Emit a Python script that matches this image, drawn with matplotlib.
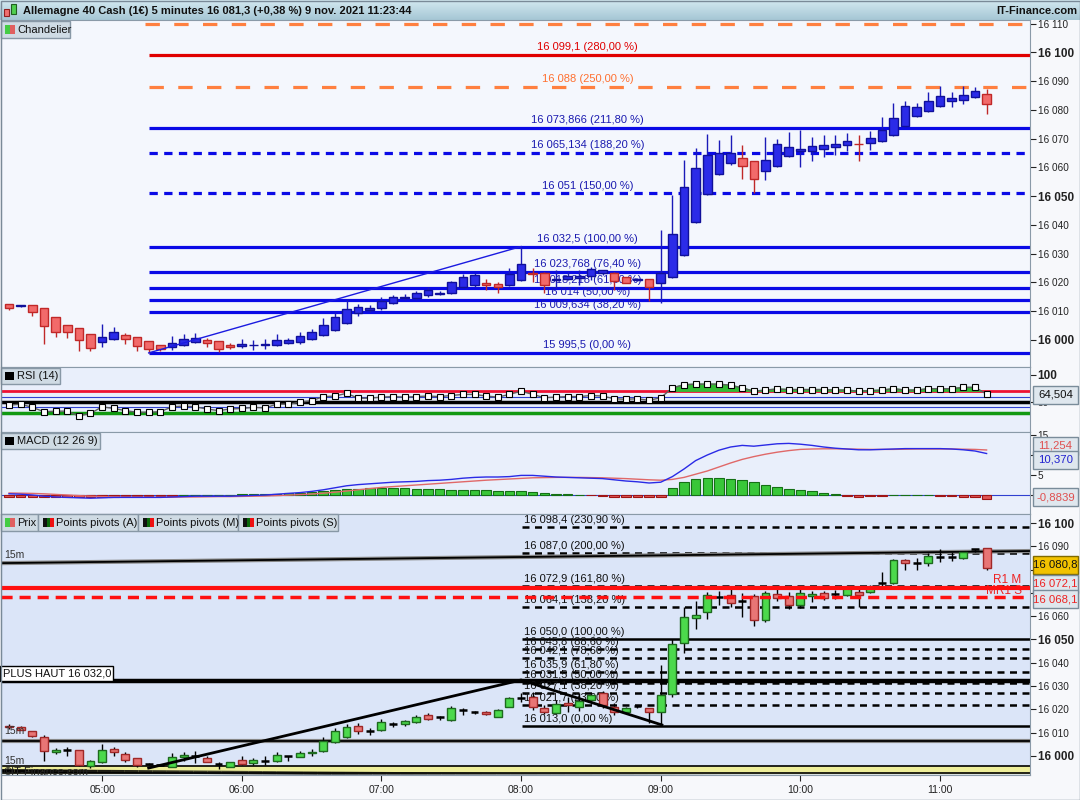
import numpy as np
import pandas as pd
import matplotlib
matplotlib.use('Agg')
import matplotlib.pyplot as plt
from matplotlib.patches import Rectangle
from matplotlib.collections import LineCollection
from matplotlib.colors import LinearSegmentedColormap, to_rgba

plt.rcParams['font.family'] = ['Liberation Sans', 'DejaVu Sans']

# 5 minute bars, 04:20 -> 11:20
times = pd.date_range('2021-11-09 04:20', '2021-11-09 11:20', freq='5min')
x = np.arange(len(times))

# --- top panel (Chandelier) ---
o1 = [16012.5, 16011.7, 16012.1, 16011.0, 16007.9, 16005.1, 16004.1, 16002.0, 15999.4, 16000.2,
      16001.7, 16000.9, 15999.5, 15998.2, 15997.5, 15998.2, 15999.2, 15999.9, 15999.5, 15998.3,
      15997.9, 15998.2, 15998.2, 15998.2, 15999.0, 15999.3, 16000.2, 16001.6, 16003.4, 16005.8,
      16009.5, 16010.5, 16011.0, 16013.0, 16014.5, 16014.5, 16015.5, 16016.0, 16016.5, 16018.5,
      16019.0, 16019.9, 16019.5, 16019.1, 16020.9, 16023.4, 16023.2, 16021.0, 16021.1, 16021.5,
      16022.3, 16023.2, 16023.4, 16021.8, 16021.0, 16021.1, 16019.7, 16021.8, 16029.6, 16041.1,
      16050.7, 16057.6, 16061.4, 16063.2, 16062.1, 16058.9, 16060.6, 16064.1, 16065.6, 16065.8,
      16066.6, 16067.2, 16067.7, 16068.3, 16068.4, 16069.1, 16071.3, 16074.4, 16077.9, 16079.5,
      16081.4, 16083.0, 16083.4, 16084.5, 16085.5]
h1 = [16012.6, 16012.3, 16012.2, 16011.1, 16008.0, 16005.2, 16004.2, 16002.1, 16005.7, 16004.5,
      16002.4, 16001.0, 15999.6, 15998.3, 16001.3, 16002.2, 16002.4, 16000.8, 15999.6, 15998.9,
      16000.5, 15999.9, 16000.2, 16002.2, 16000.8, 16002.7, 16003.8, 16007.8, 16009.7, 16014.2,
      16012.5, 16012.0, 16015.0, 16015.8, 16016.0, 16017.0, 16018.5, 16017.0, 16020.5, 16023.0,
      16023.3, 16021.2, 16020.3, 16024.9, 16032.3, 16025.1, 16023.5, 16024.3, 16023.5, 16024.3,
      16025.5, 16024.3, 16023.5, 16022.0, 16021.5, 16021.2, 16038.2, 16050.4, 16062.6, 16066.7,
      16071.6, 16069.5, 16071.3, 16067.8, 16062.3, 16070.5, 16069.8, 16072.4, 16073.0, 16070.5,
      16071.3, 16071.3, 16072.1, 16071.3, 16072.8, 16077.6, 16082.3, 16083.2, 16082.3, 16086.2,
      16088.3, 16086.1, 16088.3, 16088.1, 16087.3]
l1 = [16010.4, 16011.4, 16008.4, 15998.5, 16001.1, 16000.6, 15996.3, 15996.0, 15997.7, 16000.0,
      15998.5, 15996.3, 15995.5, 15996.2, 15996.5, 15998.0, 15999.0, 15997.5, 15995.8, 15996.8,
      15997.1, 15996.4, 15997.0, 15998.0, 15998.5, 15998.5, 15999.9, 16001.3, 16003.0, 16005.5,
      16008.5, 16009.8, 16010.5, 16012.5, 16014.0, 16014.0, 16015.0, 16015.5, 16016.0, 16018.0,
      16018.5, 16017.4, 16016.2, 16018.8, 16020.5, 16020.3, 16016.4, 16018.0, 16020.8, 16019.1,
      16020.9, 16022.6, 16017.4, 16019.7, 16020.6, 16013.5, 16013.0, 16021.5, 16029.3, 16040.8,
      16050.4, 16057.3, 16060.8, 16056.0, 16051.2, 16055.6, 16060.3, 16063.5, 16060.3, 16062.3,
      16063.7, 16064.3, 16065.8, 16062.3, 16066.1, 16068.8, 16071.0, 16074.1, 16077.6, 16079.2,
      16081.1, 16081.1, 16082.1, 16084.2, 16078.5]
c1 = [16011.1, 16012.0, 16009.8, 16004.9, 16002.7, 16002.7, 16000.0, 15997.1, 16001.0, 16002.7,
      16000.2, 15997.9, 15996.8, 15996.8, 15998.9, 16000.2, 16000.6, 15998.9, 15996.8, 15997.5,
      15998.6, 15998.3, 15998.7, 15999.9, 15999.9, 16001.3, 16002.7, 16005.2, 16007.9, 16010.7,
      16011.5, 16011.2, 16013.5, 16015.0, 16015.0, 16016.3, 16017.5, 16016.5, 16020.0, 16021.8,
      16022.5, 16019.1, 16018.5, 16022.8, 16026.3, 16022.9, 16019.1, 16021.1, 16022.4, 16022.4,
      16024.6, 16024.2, 16020.6, 16019.9, 16021.1, 16018.5, 16023.4, 16036.9, 16053.1, 16059.7,
      16064.3, 16064.9, 16064.9, 16060.6, 16055.9, 16062.6, 16068.1, 16067.0, 16066.6, 16067.5,
      16067.8, 16068.1, 16069.2, 16068.2, 16070.1, 16073.2, 16077.1, 16081.4, 16080.9, 16083.0,
      16084.8, 16084.0, 16085.2, 16086.5, 16082.0]

fib_top_levels = [16099.1, 16088.0, 16073.866, 16065.134, 16051.0, 16032.5,
                  16023.768, 16018.218, 16014.0, 16009.634, 15995.5]
fib_top_labels = ['16 099,1 (280,00 %)', '16 088 (250,00 %)', '16 073,866 (211,80 %)',
                  '16 065,134 (188,20 %)', '16 051 (150,00 %)', '16 032,5 (100,00 %)',
                  '16 023,768 (76,40 %)', '16 018,218 (61,80 %)', '16 014 (50,00 %)',
                  '16 009,634 (38,20 %)', '15 995,5 (0,00 %)']
fib_top_kind = ['red', 'orange', 'solid', 'dash', 'dash', 'solid',
                'solid', 'solid', 'solid', 'solid', 'solid']
fib_top_extra = 16109.8  # orange dashed line at the very top

# --- RSI (14) ---
rsi = [44, 46, 40, 32, 33, 33, 24, 29, 41, 38,
       34, 31, 31, 32, 41, 42.6, 41, 37, 34, 37,
       38, 40, 39, 46, 46, 49.4, 52.4, 59.8, 61, 66,
       57, 57, 59, 60, 59, 60, 61, 60, 62, 64,
       64, 61, 59, 64, 70, 64, 58, 59, 60, 60,
       62, 61, 56, 55, 56, 53, 58, 76, 82, 83,
       83, 83, 81, 76, 70, 72, 74, 73, 73, 73,
       73, 72, 72, 70, 71, 72, 74.6, 72, 72, 74.6,
       74.6, 74.6, 77, 77, 64.504]

# --- MACD (12 26 9) ---
macd = [0.3, 0.2, 0.0, -0.3, -0.5, -0.6, -0.7, -0.8, -0.7, -0.6,
        -0.6, -0.6, -0.6, -0.6, -0.5, -0.4, -0.3, -0.3, -0.3, -0.3,
        -0.2, -0.1, 0.0, 0.2, 0.4, 0.6, 0.9, 1.3, 1.8, 2.3,
        2.6, 2.8, 3.0, 3.2, 3.3, 3.4, 3.6, 3.7, 3.9, 4.2,
        4.4, 4.5, 4.5, 4.6, 4.9, 4.9, 4.7, 4.5, 4.4, 4.3,
        4.2, 4.1, 3.8, 3.5, 3.3, 3.0, 3.2, 4.6, 6.5, 8.6,
        10.0, 11.2, 12.0, 12.4, 12.2, 12.5, 12.8, 12.9, 12.7, 12.4,
        12.0, 11.7, 11.5, 11.3, 11.3, 11.4, 11.5, 11.6, 11.6, 11.6,
        11.6, 11.5, 11.3, 11.0, 10.37]
signal = [0.5, 0.45, 0.4, 0.3, 0.15, 0.0, -0.15, -0.3, -0.4, -0.45,
          -0.5, -0.5, -0.55, -0.55, -0.55, -0.5, -0.5, -0.45, -0.4, -0.4,
          -0.35, -0.3, -0.25, -0.15, -0.05, 0.1, 0.25, 0.45, 0.7, 1.0,
          1.3, 1.6, 1.9, 2.1, 2.3, 2.5, 2.7, 2.9, 3.1, 3.3,
          3.5, 3.7, 3.85, 4.0, 4.15, 4.3, 4.35, 4.4, 4.4, 4.4,
          4.35, 4.3, 4.2, 4.1, 3.95, 3.8, 3.7, 3.9, 4.4, 5.2,
          6.0, 7.0, 8.0, 8.9, 9.6, 10.2, 10.7, 11.1, 11.4, 11.5,
          11.55, 11.55, 11.5, 11.45, 11.4, 11.4, 11.4, 11.45, 11.5, 11.5,
          11.5, 11.5, 11.45, 11.4, 11.254]
hist = [-0.4, -0.45, -0.5, -0.55, -0.6, -0.6, -0.55, -0.5, -0.45, -0.4,
        -0.35, -0.3, -0.25, -0.2, -0.15, 0.0, 0.0, 0.0, 0.0, 0.0,
        0.15, 0.2, 0.25, 0.35, 0.45, 0.6, 0.75, 0.9, 1.2, 1.4,
        1.6, 1.7, 1.75, 1.75, 1.7, 1.6, 1.5, 1.4, 1.35, 1.3,
        1.25, 1.2, 1.1, 1.0, 0.9, 0.75, 0.55, 0.35, 0.2, 0.05,
        -0.1, -0.25, -0.4, -0.5, -0.55, -0.6, -0.45, 1.75, 3.25, 4.0,
        4.25, 4.25, 4.0, 3.75, 3.25, 2.5, 2.0, 1.5, 1.25, 1.0,
        0.5, 0.25, -0.3, -0.4, -0.35, -0.3, 0.0, 0.0, 0.0, 0.0,
        -0.3, -0.35, -0.4, -0.4, -0.8839]

# --- bottom panel (Prix + pivots) ---
o2 = [16013.0, 16012.3, 16010.7, 16008.0, 16001.6, 16002.6, 16002.6, 15995.7, 15997.3, 16003.0,
      16000.7, 15999.0, 15996.6, 15996.1, 15995.4, 15999.4, 15999.7, 15999.3, 15996.5, 15995.4,
      15998.3, 15996.9, 15997.6, 15997.6, 15999.7, 15999.7, 16001.4, 16002.0, 16006.0, 16008.0,
      16013.0, 16010.5, 16011.0, 16013.5, 16013.5, 16014.5, 16017.5, 16016.5, 16015.5, 16019.5,
      16018.8, 16019.0, 16016.9, 16021.2, 16024.6, 16025.5, 16020.4, 16018.3, 16022.6, 16021.2,
      16024.0, 16026.9, 16021.2, 16019.0, 16021.2, 16020.4, 16019.0, 16026.6, 16048.4, 16059.1,
      16061.8, 16068.0, 16069.0, 16066.5, 16068.7, 16058.4, 16069.5, 16068.7, 16064.8, 16068.5,
      16070.0, 16069.3, 16069.2, 16070.5, 16070.4, 16074.2, 16074.1, 16084.1, 16083.0, 16083.0,
      16085.5, 16085.5, 16085.2, 16088.7, 16089.1]
h2 = [16013.5, 16012.8, 16010.9, 16009.0, 16003.5, 16004.0, 16002.7, 15998.3, 16005.2, 16004.0,
      16001.8, 15999.2, 15996.9, 15996.3, 16001.1, 16001.5, 16002.3, 16000.1, 15997.3, 15997.5,
      15999.8, 15998.9, 15999.8, 16001.8, 16000.1, 16002.0, 16003.0, 16008.0, 16012.0, 16013.5,
      16014.0, 16012.0, 16016.0, 16014.5, 16015.5, 16017.5, 16018.5, 16017.0, 16021.5, 16020.5,
      16019.3, 16019.5, 16020.0, 16025.2, 16027.0, 16027.5, 16022.0, 16024.0, 16025.5, 16027.0,
      16026.9, 16027.7, 16022.6, 16021.2, 16021.9, 16020.6, 16039.0, 16050.0, 16064.1, 16066.5,
      16070.5, 16071.0, 16071.5, 16070.0, 16069.5, 16071.0, 16072.0, 16070.5, 16071.5, 16070.8,
      16071.0, 16071.3, 16073.5, 16071.5, 16073.5, 16079.1, 16084.5, 16084.5, 16085.1, 16087.1,
      16088.8, 16087.6, 16088.2, 16089.0, 16089.5]
l2 = [16011.5, 16011.0, 16008.0, 15997.9, 16000.8, 16000.0, 15995.5, 15995.0, 15997.0, 16000.0,
      15997.5, 15995.2, 15996.0, 15995.8, 15995.2, 15997.9, 15996.8, 15997.2, 15994.4, 15995.2,
      15996.2, 15996.0, 15996.2, 15997.4, 15997.6, 15999.5, 16000.0, 16001.5, 16005.5, 16007.5,
      16009.5, 16009.0, 16010.5, 16012.5, 16013.0, 16014.0, 16015.5, 16015.5, 16015.0, 16017.5,
      16018.0, 16017.5, 16016.5, 16021.0, 16023.0, 16019.8, 16018.2, 16017.9, 16019.0, 16019.2,
      16022.5, 16020.5, 16017.5, 16018.8, 16020.5, 16014.0, 16013.0, 16025.5, 16044.3, 16054.5,
      16059.0, 16065.0, 16064.0, 16059.5, 16055.8, 16057.5, 16066.5, 16063.0, 16063.5, 16066.0,
      16067.0, 16067.5, 16068.8, 16064.0, 16069.8, 16073.0, 16073.8, 16079.9, 16079.7, 16081.6,
      16083.2, 16083.5, 16084.6, 16087.7, 16079.8]
c2 = [16012.3, 16011.2, 16008.6, 16002.1, 16002.6, 16002.7, 15996.1, 15997.6, 16002.6, 16001.6,
      15998.3, 15996.1, 15996.5, 15996.1, 15999.7, 16000.4, 15999.8, 15997.3, 15996.4, 15997.3,
      15996.4, 15998.3, 15997.7, 16000.3, 15999.8, 16001.4, 16001.8, 16006.5, 16010.5, 16012.5,
      16010.5, 16010.8, 16014.5, 16013.7, 16015.0, 16016.8, 16016.0, 16016.6, 16020.5, 16019.8,
      16019.0, 16018.0, 16019.7, 16024.8, 16024.9, 16020.9, 16018.7, 16022.2, 16021.9, 16023.7,
      16026.2, 16021.9, 16019.0, 16020.4, 16021.3, 16018.7, 16026.2, 16048.1, 16059.5, 16060.5,
      16069.0, 16068.3, 16065.5, 16066.8, 16058.4, 16070.0, 16067.8, 16064.8, 16070.0, 16069.5,
      16068.0, 16069.5, 16072.5, 16069.0, 16072.5, 16074.4, 16084.1, 16082.7, 16083.1, 16085.8,
      16085.6, 16085.4, 16087.7, 16088.7, 16080.8]

fib_bot_levels = [16098.4, 16087.0, 16072.9, 16064.1, 16050.0, 16045.8, 16042.1,
                  16035.9, 16031.5, 16027.1, 16021.7, 16013.0]
fib_bot_labels = ['16 098,4 (230,90 %)', '16 087,0 (200,00 %)', '16 072,9 (161,80 %)',
                  '16 064,1 (138,20 %)', '16 050,0 (100,00 %)', '16 045,8 (88,60 %)',
                  '16 042,1 (78,60 %)', '16 035,9 (61,80 %)', '16 031,5 (50,00 %)',
                  '16 027,1 (38,20 %)', '16 021,7 (23,60 %)', '16 013,0 (0,00 %)']
fib_bot_solid = [16050.0, 16013.0]
pivot_r1_m = 16072.1
pivot_mr1_s = 16068.1
plus_haut = 16032.0
line_15m_low = 16006.5
band_15m = (15992.5, 15995.8)
slope_15m = [(-0.7, 16082.8), (87.7, 16088.0)]

W, H = 1080, 800
XMIN, XMAX = -0.69, 87.73


def rect(x0, y0, x1, y1):
    return [x0 / W, 1 - y1 / H, (x1 - x0) / W, (y1 - y0) / H]


def fig_rect(x0, y0, w, h, **kw):
    fig.add_artist(Rectangle((x0 / W, 1 - (y0 + h) / H), w / W, h / H,
                             transform=fig.transFigure, **kw))


def fmt_price(v):
    return f'{int(round(v)):,}'.replace(',', ' ')


def style_axis(ax, bg, ticks, labels, bold):
    ax.set_facecolor(bg)
    ax.set_xlim(XMIN, XMAX)
    ax.yaxis.tick_right()
    ax.set_yticks(ticks)
    ax.set_yticklabels(labels)
    ax.tick_params(axis='y', direction='out', length=4, width=0.8, pad=1.5,
                   labelsize=7.2, colors='#222222')
    for t, lab in zip(ticks, ax.get_yticklabels()):
        if t in bold:
            lab.set_fontweight('bold')
            lab.set_fontsize(8.5)
    ax.set_xticks([])
    for s in ax.spines.values():
        s.set_color('#8a9aa8')


def draw_candles(ax, o, h, l, c, width, up_face, up_edge, dn_face, dn_edge,
                 up_wick, dn_wick, doji_col, tol):
    o, h, l, c = map(np.asarray, (o, h, l, c))
    up = c > o + tol
    dn = c < o - tol
    dj = ~(up | dn)
    wick = np.where(up, up_wick, np.where(dn, dn_wick, doji_col))
    ax.vlines(x, l, h, colors=list(wick), lw=1, zorder=4)
    ax.bar(x[up], (c - o)[up], bottom=o[up], width=width, color=up_face,
           edgecolor=up_edge, lw=1, zorder=5)
    ax.bar(x[dn], (o - c)[dn], bottom=c[dn], width=width, color=dn_face,
           edgecolor=dn_edge, lw=1, zorder=5)
    if dj.any():
        ax.hlines(((o + c) / 2)[dj], x[dj] - width / 2, x[dj] + width / 2,
                  colors=doji_col, lw=1.8, zorder=5)


def value_box(ax, y, text, color, fc='#dfe7ee', ec='#7a8c9a'):
    # fixed-size box in pixels, centred on the value's height
    ypix = H - ax.transData.transform((0, y))[1]
    fig_rect(1033, ypix - 9, 45, 18, fc=fc, ec=ec, lw=1, zorder=20)
    fig.text(1055.5 / W, 1 - ypix / H, text, ha='center', va='center', fontsize=8.2,
             color=color, zorder=21)


fig = plt.figure(figsize=(W / 100, H / 100), dpi=100)
fig.patch.set_facecolor('#f7f8fb')

# ---------------- title bar ----------------
tb = fig.add_axes(rect(0, 0, 1080, 20))
tb.imshow(np.linspace(0, 1, 20)[:, None], aspect='auto', extent=[0, 1, 0, 1],
          cmap=LinearSegmentedColormap.from_list('tb', ['#d2e8f0', '#a6c7d5']))
tb.axis('off')
fig.text(23 / W, 1 - 10.5 / H, 'Allemagne 40 Cash (1€) 5 minutes 16 081,3 (+0,38 %) 9 nov. 2021 11:23:44',
         fontsize=8, fontweight='bold', color='#111111', va='center')
fig.text(1077 / W, 1 - 10.5 / H, 'IT-Finance.com', fontsize=8, fontweight='bold',
         color='#111111', va='center', ha='right')
fig_rect(4, 9, 5, 7, fc='#f07070', ec='#902020', lw=0.8)
fig_rect(11, 4, 5, 10, fc='#50d050', ec='#206020', lw=0.8)

# ---------------- top panel ----------------
ax1 = fig.add_axes(rect(1, 20, 1030, 367))
t1 = [16000, 16010, 16020, 16030, 16040, 16050, 16060, 16070, 16080, 16090, 16100, 16110]
style_axis(ax1, '#f4f7fd', t1, [fmt_price(t) for t in t1], [16000, 16050, 16100])
ax1.set_ylim(15990.6, 16111.3)

fib_start = 12
fib_lab_x = 49.7
for lev, lab, kind in zip(fib_top_levels, fib_top_labels, fib_top_kind):
    if kind == 'red':
        col, tcol, ls = '#e00000', '#e00000', '-'
    elif kind == 'orange':
        col, tcol, ls = '#ff8040', '#ff7030', (0, (4.5, 4.5))
    elif kind == 'dash':
        col, tcol, ls = '#0a0ae6', '#1a1ab0', (0, (2.6, 2.0))
    else:
        col, tcol, ls = '#0a0ae6', '#1a1ab0', '-'
    ax1.hlines(lev, fib_start, XMAX, colors=col, lw=2.3, linestyles=ls, zorder=2)
    ax1.annotate(lab, (fib_lab_x, lev), xytext=(0, 2), textcoords='offset points',
                 ha='center', va='bottom', fontsize=8, color=tcol, zorder=3)
ax1.hlines(fib_top_extra, fib_start - 0.3, XMAX, colors='#ff8040', lw=2.3,
           linestyles=(0, (4.5, 4.5)), zorder=2)
ax1.plot([12, 44], [15995.5, 16032.5], color='#1a1ae0', lw=1, zorder=6)

draw_candles(ax1, o1, h1, l1, c1, 0.74, '#2b2be8', '#10109a', '#f26a6a', '#c02828',
             '#1a1ab8', '#c02828', '#1a1ab8', 0.0)

fig_rect(1, 21, 69, 17, fc='#cfdbe4', ec='#8898a6', lw=1)
fig_rect(5, 25, 5, 9, fc='#44cc44', ec='none')
fig_rect(10, 25, 5, 9, fc='#e06060', ec='none')
fig.text(17 / W, 1 - 30 / H, 'Chandelier', fontsize=8, va='center', color='#111111')

# ---------------- RSI ----------------
ax2 = fig.add_axes(rect(1, 367, 1030, 432))
style_axis(ax2, '#e9effb', [50, 100], ['50', '100'], [100])
ax2.set_ylim(-5.6, 114.8)
ax2.axhline(70, color='#ee1133', lw=2, zorder=2)
ax2.axhline(60, color='#3040d0', lw=0.8, zorder=2)
ax2.axhline(50, color='black', lw=2.5, zorder=2)
ax2.axhline(40, color='#3040d0', lw=0.8, zorder=2)
ax2.axhline(30, color='#119911', lw=2.5, zorder=2)
rsi_a = np.array(rsi)
ax2.fill_between(x, 70, rsi_a, where=rsi_a >= 70, interpolate=True, color='#33bb33', zorder=3)
ax2.plot(x, rsi_a, color='#606060', lw=1, marker='s', ms=4, mfc='white', mec='black',
         mew=0.8, zorder=4)
value_box(ax2, 63.0, '64,504', '#111111')
fig_rect(1, 368, 59, 16, fc='#cfdbe4', ec='#8898a6', lw=1)
fig_rect(5, 372, 9, 8, fc='black', ec='none')
fig.text(17 / W, 1 - 376 / H, 'RSI (14)', fontsize=8, va='center', color='#111111')

# ---------------- MACD ----------------
ax3 = fig.add_axes(rect(1, 432, 1030, 514))
# labels of 0 and 10 sit under the value boxes, as in the original
style_axis(ax3, '#e9effb', [0, 5, 10, 15], ['', '5', '', '15'], [])
ax3.set_ylim(-4.75, 15.75)
ax3.axhline(0, color='#3040d0', lw=0.8, zorder=2)
hist_a = np.array(hist)
ax3.bar(x, hist_a, width=0.82, color=np.where(hist_a >= 0, '#39c739', '#e05555'),
        edgecolor=np.where(hist_a >= 0, '#157015', '#a01515'), lw=0.8, zorder=3)
ax3.plot(x, signal, color='#e06868', lw=1, zorder=4)
ax3.plot(x, macd, color='#2a2ae6', lw=1, zorder=5)
value_box(ax3, 12.3, '11,254', '#e05050')
value_box(ax3, 8.8, '10,370', '#2020d0')
value_box(ax3, -0.55, '-0,8839', '#e05050')
fig_rect(1, 433, 99, 16, fc='#cfdbe4', ec='#8898a6', lw=1)
fig_rect(5, 437, 9, 8, fc='black', ec='none')
fig.text(17 / W, 1 - 441 / H, 'MACD (12 26 9)', fontsize=8, va='center', color='#111111')

# ---------------- bottom panel ----------------
ax4 = fig.add_axes(rect(1, 514, 1030, 775))
t4 = [16000, 16010, 16020, 16030, 16040, 16050, 16060, 16070, 16080, 16090, 16100]
lab4 = [fmt_price(t) if t not in (16070, 16080) else '' for t in t4]
style_axis(ax4, '#dbe5f8', t4, lab4, [16000, 16050, 16100])
ax4.set_ylim(15991.8, 16103.9)

fb_start = 44.1
for lev, lab in zip(fib_bot_levels, fib_bot_labels):
    ls = '-' if lev in fib_bot_solid else (0, (2.8, 2.2))
    ax4.hlines(lev, fb_start, XMAX, colors='black', lw=1.8, linestyles=ls, zorder=2)
    ax4.annotate(lab, (fb_start + 0.15, lev), xytext=(0, 1.5), textcoords='offset points',
                 ha='left', va='bottom', fontsize=8, color='#111111', zorder=2.5)

ax4.axhspan(*band_15m, color='#eeee99', zorder=1)
ax4.axhline(band_15m[0], color='black', lw=1.2, zorder=2)
ax4.axhline(band_15m[1], color='black', lw=1.2, zorder=2)
ax4.axhline(line_15m_low, color='#888888', lw=3, zorder=2)
ax4.axhline(line_15m_low, color='black', lw=1.3, zorder=2.1)
(sx0, sy0), (sx1, sy1) = slope_15m
ax4.plot([sx0, sx1], [sy0, sy1], color='#888888', lw=3, zorder=2)
ax4.plot([sx0, sx1], [sy0, sy1], color='black', lw=1.3, zorder=2.1)
ax4.axhline(plus_haut, color='black', lw=3.2, zorder=2)

# fading line at the bottom
fx = np.linspace(-0.7, 69.1, 60)
fy = np.linspace(15993.6, 15991.0, 60)
segs = [[(fx[k], fy[k]), (fx[k + 1], fy[k + 1])] for k in range(len(fx) - 1)]
cols = [to_rgba('black', 1 - k / (len(segs))) for k in range(len(segs))]
ax4.add_collection(LineCollection(segs, colors=cols, linewidths=2.5, zorder=2.2))

ax4.text(87.0, 16075.6, 'R1 M', color='#ee2222', fontsize=8.5, ha='right', va='center', zorder=2)
ax4.text(87.0, 16070.8, 'MR1 S', color='#ee2222', fontsize=8.5, ha='right', va='center', zorder=2)
ax4.axhline(pivot_r1_m, color='#ff1010', lw=3, zorder=6)
ax4.axhline(pivot_mr1_s, color='#ff1010', lw=2.5, linestyle=(0, (3.2, 2.0)), zorder=6)

draw_candles(ax4, o2, h2, l2, c2, 0.68, '#4cd94c', '#1e6a1e', '#e87575', '#a02828',
             'black', 'black', 'black', 0.3)

ax4.plot([12, 44, 56.1], [15994.8, plus_haut + 0.6, 16013.3], color='black', lw=2, zorder=7)

ax4.text(-0.45, 16086.3, '15m', fontsize=7.5, color='#333333', va='center', zorder=8)
ax4.text(-0.45, 16010.5, '15m', fontsize=7.5, color='#333333', va='center', zorder=8)
ax4.text(-0.45, 15997.8, '15m', fontsize=7.5, color='#333333', va='center', zorder=8)
ax4.text(-0.45, 15993.3, '©IT-Finance.com', fontsize=8, color='#222222', va='center', zorder=8)
ax4.text(-0.55, 16035.3, 'PLUS HAUT 16 032,0', fontsize=8, color='#111111', va='center', zorder=8,
         bbox=dict(boxstyle='square,pad=0.2', fc='white', ec='black', lw=1))

value_box(ax4, 16082.0, '16 080,8', '#111111', fc='#f2c200', ec='#806a00')
value_box(ax4, 16074.0, '16 072,1', '#ee2222')
value_box(ax4, 16067.2, '16 068,1', '#ee2222')

hours = [k for k, t in enumerate(times) if t.minute == 0]
ax4.set_xticks(hours)
ax4.set_xticklabels([times[k].strftime('%H:%M') for k in hours])
ax4.tick_params(axis='x', direction='out', length=4, labelsize=7.5, pad=3, colors='#222222')

fig_rect(1, 514, 37, 17, fc='#cfdbe4', ec='#8898a6', lw=1)
fig_rect(5, 518, 5, 9, fc='#44cc44', ec='none')
fig_rect(10, 518, 5, 9, fc='#e06060', ec='none')
fig.text(17 / W, 1 - 523 / H, 'Prix', fontsize=8, va='center', color='#111111')
for bx, lab in zip([38, 138, 238], ['Points pivots (A)', 'Points pivots (M)', 'Points pivots (S)']):
    fig_rect(bx, 514, 100, 17, fc='#cfdbe4', ec='#8898a6', lw=1)
    fig_rect(bx + 5, 518, 3.5, 9, fc='#111111', ec='none')
    fig_rect(bx + 8.5, 518, 3.5, 9, fc='#0a6a0a', ec='none')
    fig_rect(bx + 12, 518, 3.5, 9, fc='#ee1111', ec='none')
    fig.text((bx + 18) / W, 1 - 523 / H, lab, fontsize=8, va='center', color='#111111')

fig_rect(0.5, 0.5, 1079, 799, fc='none', ec='#7a8a98', lw=1)

fig.savefig('out.png', dpi=100, facecolor=fig.get_facecolor())
